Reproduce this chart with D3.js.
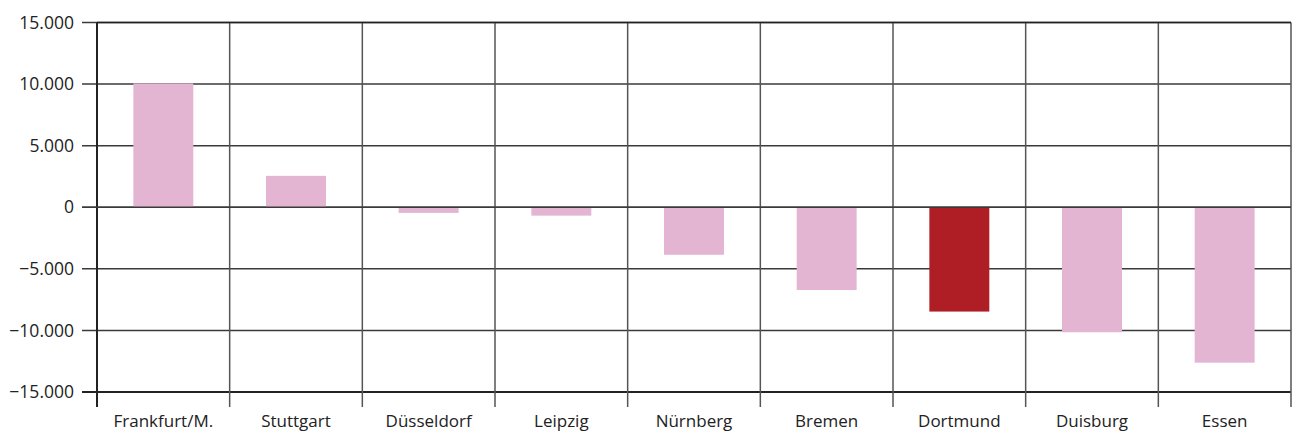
<!DOCTYPE html>
<html><head><meta charset="utf-8">
<script src="https://cdn.jsdelivr.net/npm/d3@7"></script>
<style>body{margin:0;background:#fff}svg{display:block}text{font-family:"Open Sans",sans-serif;fill:#222}</style>
</head><body><svg id="c" width="1295" height="432"></svg>
<script>
const categories = ["Frankfurt/M.","Stuttgart","Düsseldorf","Leipzig","Nürnberg","Bremen","Dortmund","Duisburg","Essen"];
const values = [10050, 2550, -460, -680, -3860, -6720, -8470, -10150, -12620];
const highlight = ["Dortmund"];
const yTicks = [15000, 10000, 5000, 0, -5000, -10000, -15000];

const svg = d3.select("#c");
const m = {l:97, r:1291, t:22.5, b:392};
const x = d3.scaleBand().domain(categories).range([m.l, m.r]).paddingInner(0).paddingOuter(0);
const y = d3.scaleLinear().domain([-15000, 15000]).range([m.b, m.t]);
const fmt = v => v === 0 ? "0" : d3.format(",")(v).replace(/,/g, ".");

// horizontal grid
svg.append("g").selectAll("line").data(yTicks).join("line")
  .attr("x1", m.l - 15).attr("x2", m.r)
  .attr("y1", d => y(d)).attr("y2", d => y(d))
  .attr("stroke", d => d === -15000 ? "#222" : "#3a3a3a").attr("stroke-width", d => d === -15000 ? 2 : 1.5);

// vertical grid at band boundaries
const bounds = categories.map(c => x(c)).concat([m.r]);
svg.append("g").selectAll("line").data(bounds).join("line")
  .attr("x1", d => d).attr("x2", d => d)
  .attr("y1", m.t).attr("y2", (d,i) => m.b + 15)
  .attr("stroke", (d,i) => i === 0 ? "#222" : "#555").attr("stroke-width", (d,i) => i === 0 ? 2 : 1.5);

// bars
const bw = x.bandwidth() * 0.452;
svg.append("g").selectAll("rect").data(categories).join("rect")
  .attr("x", d => x(d) + (x.bandwidth() - bw) / 2)
  .attr("width", bw)
  .attr("y", (d,i) => y(Math.max(0, values[i])))
  .attr("height", (d,i) => Math.abs(y(values[i]) - y(0)))
  .attr("fill", d => highlight.includes(d) ? "#B01E25" : "#E4B5D3");

// zero line
svg.append("line").attr("x1", m.l - 15).attr("x2", m.r).attr("y1", y(0)).attr("y2", y(0))
  .attr("stroke", "#3a3a3a").attr("stroke-width", 1.5);
// top line
svg.append("line").attr("x1", m.l).attr("x2", m.r).attr("y1", y(15000)).attr("y2", y(15000))
  .attr("stroke", "#222").attr("stroke-width", 1.5);

// y labels
svg.append("g").selectAll("text").data(yTicks).join("text")
  .attr("x", 74).attr("y", d => y(d)).attr("dy", "0.35em")
  .attr("text-anchor", "end").attr("font-size", 17.5).text(fmt);

// x labels
svg.append("g").selectAll("text").data(categories).join("text")
  .attr("x", d => x(d) + x.bandwidth()/2).attr("y", 421).attr("dy", "0.35em")
  .attr("text-anchor", "middle").attr("font-size", 17).text(d => d);
</script></body></html>
